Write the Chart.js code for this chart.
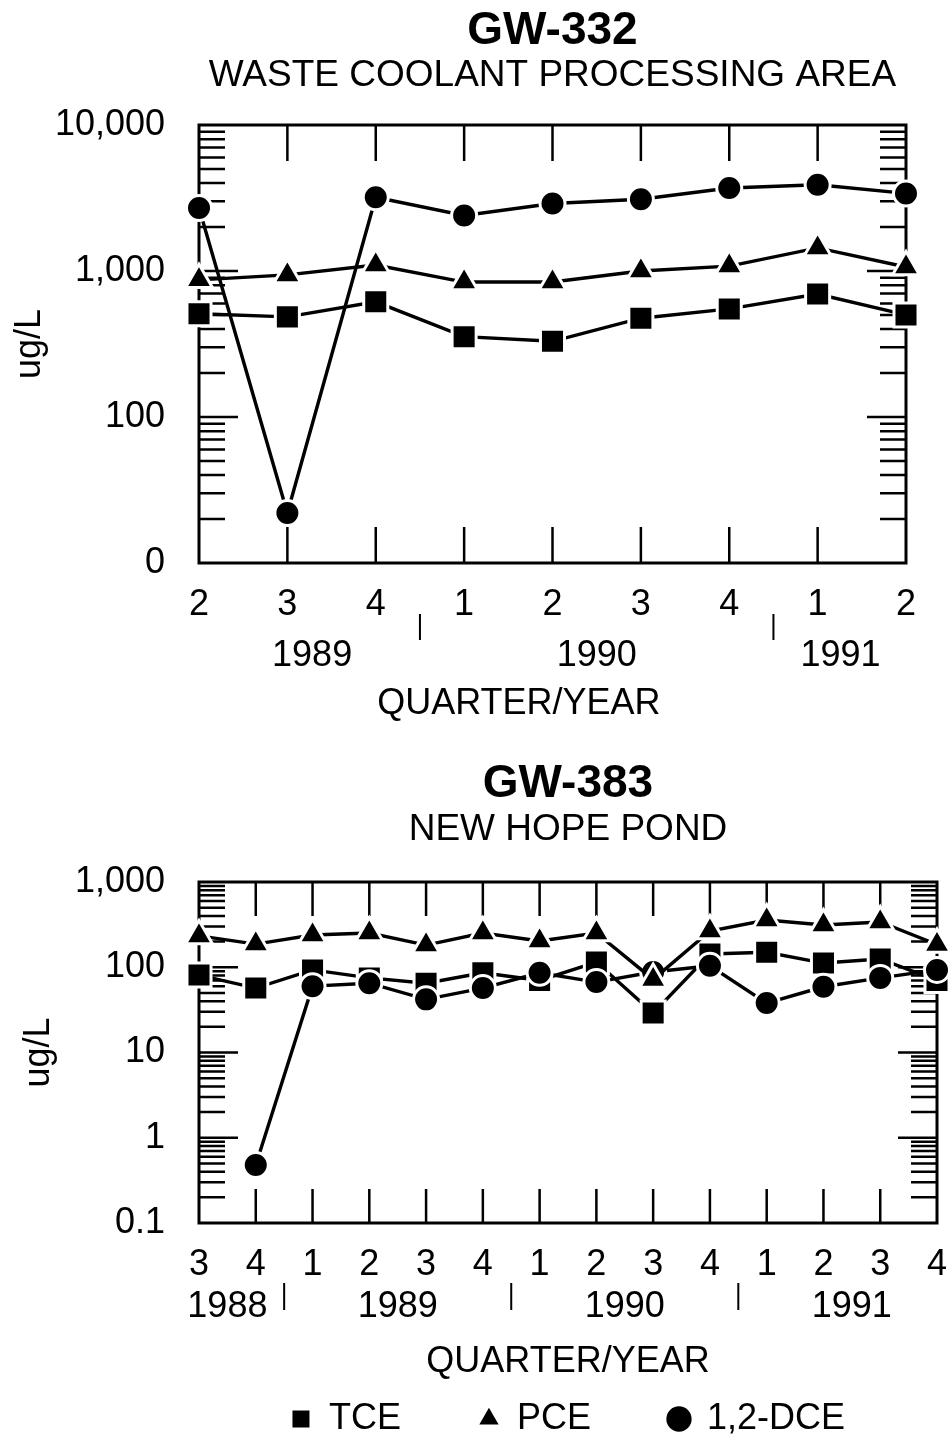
<!DOCTYPE html>
<html>
<head>
<meta charset="utf-8">
<script src="https://cdn.jsdelivr.net/npm/chart.js@4.4.1/dist/chart.umd.min.js"></script>
<style>
  html, body { margin: 0; padding: 0; background: #fff; }
  #wrapA { position: absolute; left: 0; top: 0; width: 949px; height: 750px; }
  #wrapB { position: absolute; left: 0; top: 750px; width: 949px; height: 693px; }
</style>
</head>
<body>
<div id="wrapA"><canvas id="chartA"></canvas></div>
<div id="wrapB"><canvas id="chartB"></canvas></div>
<script>
// ---------- DATA: GW-332 ----------
const quartersA = ['2','3','4','1','2','3','4','1','2'];
const yearsA = ['1989','1990','1991'];
const yTicksA = [10, 100, 1000, 10000];
const yTickLabelsA = ['0','100','1,000','10,000'];
const tceA = [510, 485, 615, 355, 330, 475, 550, 695, 500];
const pceA = [870, 940, 1100, 840, 840, 1000, 1080, 1440, 1065];
const dceA = [2700, 22, 3200, 2400, 2900, 3100, 3700, 3900, 3400];

// ---------- DATA: GW-383 ----------
const quartersB = ['3','4','1','2','3','4','1','2','3','4','1','2','3','4'];
const yearsB = ['1988','1989','1990','1991'];
const yTicksB = [0.1, 1, 10, 100, 1000];
const yTickLabelsB = ['0.1','1','10','100','1,000'];
const tceB = [81, 57, 93, 75, 65, 86, 70, 115, 29, 143, 150, 112, 125, 70];
const pceB = [233, 187, 239, 252, 182, 252, 203, 252, 72, 266, 358, 313, 340, 185];
const dceB = [null, 0.48, 60, 65, 42, 57, 86, 67, 88, 104, 38, 59, 75, 93];

const seriesNames = ['TCE', 'PCE', '1,2-DCE'];

// ---------- STYLE ----------
const FONT = "'Liberation Sans', Arial, Helvetica, sans-serif";
Chart.defaults.font.family = FONT;
Chart.defaults.color = '#000';

const decor = {
  id: 'decor',
  beforeDatasetsDraw(chart, args, o) {
    const {ctx, chartArea: a, scales: {x, y}} = chart;
    ctx.save();
    ctx.strokeStyle = '#000';
    ctx.lineWidth = 3;
    ctx.strokeRect(a.left, a.top, a.right - a.left, a.bottom - a.top);
    ctx.lineWidth = 2.5;
    ctx.beginPath();
    const n = chart.data.labels.length;
    for (let i = 1; i < n - 1; i++) {
      const px = x.getPixelForValue(i);
      ctx.moveTo(px, a.bottom); ctx.lineTo(px, a.bottom - o.xTick);
      ctx.moveTo(px, a.top); ctx.lineTo(px, a.top + o.xTick);
    }
    const lo = Math.round(Math.log10(y.min)), hi = Math.round(Math.log10(y.max));
    for (let d = lo; d < hi; d++) {
      for (let k = 1; k <= 9; k++) {
        if (d === lo && k === 1) continue;
        const py = y.getPixelForValue(k * Math.pow(10, d));
        const len = k === 1 ? o.major : o.minor;
        ctx.moveTo(a.left, py); ctx.lineTo(a.left + len, py);
        ctx.moveTo(a.right, py); ctx.lineTo(a.right - len, py);
      }
    }
    ctx.stroke();
    ctx.restore();
  },
  afterDraw(chart, args, o) {
    const {ctx, scales: {x}} = chart;
    const q = chart.data.labels;
    ctx.save();
    ctx.strokeStyle = '#000';
    ctx.lineWidth = 2;
    ctx.beginPath();
    for (let i = 1; i < q.length; i++) {
      if (q[i] === '1' && q[i - 1] === '4') {
        const px = x.getPixelForValue(i - 0.5);
        ctx.moveTo(px, o.sepTop); ctx.lineTo(px, o.sepBottom);
      }
    }
    ctx.stroke();
    ctx.fillStyle = '#000';
    ctx.font = '36px ' + FONT;
    ctx.textAlign = 'center';
    ctx.textBaseline = 'middle';
    o.years.forEach((yr, i) => ctx.fillText(yr, x.getPixelForValue(o.yearPos[i]), o.yearY));
    ctx.fillText('QUARTER/YEAR', x.getPixelForValue(o.titlePos), o.titleY);
    ctx.restore();
  }
};

function makeDatasets(tce, pce, dce) {
  const common = {
    borderColor: '#000', borderWidth: 3.4, tension: 0,
    pointBackgroundColor: '#000', pointBorderColor: '#fff', pointBorderWidth: 3,
    clip: false, spanGaps: false
  };
  return [
    Object.assign({label: seriesNames[0], data: tce, pointStyle: 'rect', pointRadius: 17, order: 2}, common),
    Object.assign({label: seriesNames[1], data: pce, pointStyle: 'triangle', pointRadius: 15.5, order: 0}, common),
    Object.assign({label: seriesNames[2], data: dce, pointStyle: 'circle', pointRadius: 12.5, order: 1}, common)
  ];
}

function makeChart(id, cfg) {
  return new Chart(document.getElementById(id), {
    type: 'line',
    data: { labels: cfg.quarters, datasets: makeDatasets(cfg.tce, cfg.pce, cfg.dce) },
    options: {
      responsive: true,
      maintainAspectRatio: false,
      animation: false,
      events: [],
      layout: { padding: cfg.padding, autoPadding: false },
      scales: {
        x: {
          type: 'category',
          offset: false,
          grid: { display: false, drawTicks: false },
          border: { display: false },
          ticks: { autoSkip: false, maxRotation: 0, padding: 0, font: { size: 36, lineHeight: 84 / 36 }, color: '#000' },
          afterFit: (s) => { s.height = cfg.xHeight; s.paddingLeft = 0; s.paddingRight = 0; }
        },
        y: {
          type: 'logarithmic',
          min: cfg.yTicks[0],
          max: cfg.yTicks[cfg.yTicks.length - 1],
          grid: { display: false, drawTicks: false },
          border: { display: false },
          afterBuildTicks: (s) => { s.ticks = cfg.yTicks.map(v => ({value: v})); },
          ticks: {
            padding: 34, font: { size: 36 }, color: '#000',
            callback: (v) => { const i = cfg.yTicks.indexOf(v); return i >= 0 ? cfg.yLabels[i] : ''; }
          },
          title: { display: true, text: 'ug/L', font: { size: 36 }, color: '#000', padding: { top: cfg.yTitlePad } },
          afterFit: (s) => { s.width = 199; }
        }
      },
      plugins: {
        tooltip: { enabled: false },
        title: {
          display: true, text: cfg.title, fullSize: false, color: '#000',
          font: { size: 46, weight: 'bold', lineHeight: 1 },
          padding: { top: cfg.titlePad, bottom: 0 }
        },
        subtitle: {
          display: true, text: cfg.subtitle, fullSize: false, color: '#000',
          font: { size: 37, lineHeight: 1 },
          padding: cfg.subPad
        },
        legend: cfg.legend,
        decor: cfg.decor
      }
    },
    plugins: [decor]
  });
}

makeChart('chartA', {
  quarters: quartersA, tce: tceA, pce: pceA, dce: dceA,
  yTicks: yTicksA, yLabels: yTickLabelsA,
  title: 'GW-332', subtitle: 'WASTE COOLANT PROCESSING AREA',
  titlePad: 8, subPad: { top: 3.5, bottom: 30.5 },
  padding: { left: 0, right: 43, top: 0, bottom: 0 },
  xHeight: 187, yTitlePad: 8,
  legend: { display: false },
  decor: { xTick: 36, major: 39, minor: 26, sepTop: 614, sepBottom: 640,
           years: yearsA, yearPos: [1.28, 4.5, 7.26], yearY: 656, titlePos: 3.62, titleY: 704 }
});

makeChart('chartB', {
  quarters: quartersB, tce: tceB, pce: pceB, dce: dceB,
  yTicks: yTicksB, yLabels: yTickLabelsB,
  title: 'GW-383', subtitle: 'NEW HOPE POND',
  titlePad: 11, subPad: { top: 4, bottom: 34 },
  padding: { left: 0, right: 12, top: 0, bottom: 0 },
  xHeight: 100, yTitlePad: 17,
  legend: {
    display: true, position: 'bottom', fullSize: false, maxHeight: 120,
    labels: {
      usePointStyle: true, boxWidth: 20, boxHeight: 20, padding: 78,
      font: { size: 36 }, color: '#000',
      sort: (a, b) => a.datasetIndex - b.datasetIndex
    }
  },
  decor: { xTick: 34, major: 39, minor: 26, sepTop: 533, sepBottom: 560,
           years: yearsB, yearPos: [0.5, 3.5, 7.5, 11.5], yearY: 557, titlePos: 6.5, titleY: 612 }
});
</script>
</body>
</html>
